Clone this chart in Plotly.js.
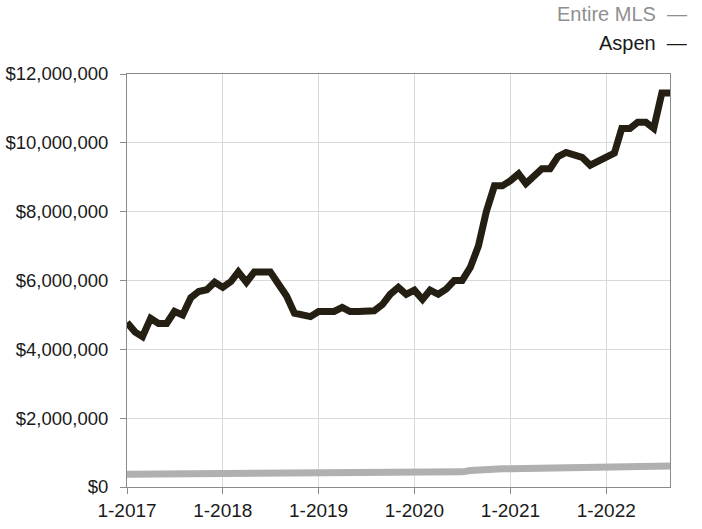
<!DOCTYPE html>
<html>
<head>
<meta charset="utf-8">
<script src="https://cdn.plot.ly/plotly-3.0.1.min.js"></script>
<style>html,body{margin:0;padding:0;background:#fff;}#chart{width:702px;height:529px;}</style>
</head>
<body>
<div id="chart"></div>
<script>
// Months Jan 2017 .. Sep 2022
const months = [];
for (let y = 2017; y <= 2022; y++) {
  for (let m = 1; m <= 12; m++) {
    if (y === 2022 && m > 9) break;
    months.push(y + '-' + String(m).padStart(2, '0') + '-01');
  }
}

const aspen = [
  4780000, 4500000, 4370000, 4900000, 4750000, 4750000, 5100000, 5000000, 5500000, 5680000, 5730000, 5950000,
  5800000, 5970000, 6250000, 5950000, 6250000, 6250000, 6250000, 5900000, 5550000, 5050000, 5000000, 4950000,
  5100000, 5100000, 5100000, 5220000, 5100000, 5100000, 5100000, 5120000, 5300000, 5600000, 5800000, 5600000,
  5720000, 5450000, 5720000, 5600000, 5750000, 6000000, 6000000, 6380000, 7000000, 8000000, 8750000, 8750000,
  8900000, 9100000, 8820000, 9050000, 9250000, 9250000, 9600000, 9720000, 9670000, 9580000, 9350000, 9470000,
  9600000, 9700000, 10420000, 10420000, 10600000, 10600000, 10420000, 11450000, 11450000
];

const entireMLS = [
  370000, 372000, 374000, 376000, 378000, 380000, 382000, 383000, 384000, 385000, 386000, 387000,
  388000, 388000, 389000, 390000, 390000, 391000, 392000, 393000, 394000, 394000, 392000, 390000,
  385000, 385000, 388000, 392000, 396000, 400000, 403000, 406000, 409000, 412000, 415000, 418000,
  420000, 424000, 428000, 432000, 435000, 437000, 440000, 480000, 505000, 515000, 522000, 528000,
  532000, 538000, 542000, 548000, 553000, 558000, 565000, 570000, 572000, 574000, 576000, 578000,
  580000, 575000, 585000, 590000, 593000, 596000, 600000, 605000, 610000
];

const tickVals = ['2017-01-01','2018-01-01','2019-01-01','2020-01-01','2021-01-01','2022-01-01'];
const tickText = ['1-2017','1-2018','1-2019','1-2020','1-2021','1-2022'];
const yTickVals = [0, 2000000, 4000000, 6000000, 8000000, 10000000, 12000000];
const yTickText = ['$0','$2,000,000','$4,000,000','$6,000,000','$8,000,000','$10,000,000','$12,000,000'];

const traces = [
  {x: months, y: entireMLS, type: 'scatter', mode: 'lines', name: 'Entire MLS',
   line: {color: '#b0b0b0', width: 7}},
  {x: months, y: aspen, type: 'scatter', mode: 'lines', name: 'Aspen',
   line: {color: '#241f12', width: 7}}
];

const fontFam = 'Liberation Sans, Arial, Helvetica, sans-serif';

const layout = {
  width: 702, height: 529,
  margin: {l: 127, r: 32, t: 74, b: 42},
  paper_bgcolor: '#ffffff', plot_bgcolor: '#ffffff',
  showlegend: false,
  font: {family: fontFam, size: 18, color: '#1a1a1a'},
  xaxis: {
    type: 'date',
    range: ['2017-01-01', '2022-09-01'],
    tickvals: tickVals, ticktext: tickText,
    showgrid: true, gridcolor: '#d9d9d9', gridwidth: 1,
    showline: true, linecolor: '#8a8a8a', linewidth: 1, mirror: true,
    ticks: 'outside', ticklen: 6, tickcolor: '#8a8a8a',
    tickfont: {family: fontFam, size: 19, color: '#1a1a1a'},
    zeroline: false, fixedrange: true
  },
  yaxis: {
    range: [0, 12000000],
    tickvals: yTickVals, ticktext: yTickText,
    showgrid: true, gridcolor: '#d9d9d9', gridwidth: 1,
    showline: true, linecolor: '#8a8a8a', linewidth: 1, mirror: true,
    ticks: 'outside', ticklen: 6, tickcolor: '#8a8a8a',
    ticklabelstandoff: 8,
    tickfont: {family: fontFam, size: 18.5, color: '#1a1a1a'},
    zeroline: false, fixedrange: true
  },
  annotations: [
    {xref: 'paper', yref: 'paper', x: 1.035, y: 1.145, xanchor: 'right', yanchor: 'middle',
     text: 'Entire MLS  —', showarrow: false,
     font: {family: fontFam, size: 20, color: '#8f8f8f'}},
    {xref: 'paper', yref: 'paper', x: 1.035, y: 1.075, xanchor: 'right', yanchor: 'middle',
     text: 'Aspen  —', showarrow: false,
     font: {family: fontFam, size: 20, color: '#1a1a1a'}}
  ]
};

Plotly.newPlot('chart', traces, layout, {displayModeBar: false, staticPlot: true});
</script>
</body>
</html>
